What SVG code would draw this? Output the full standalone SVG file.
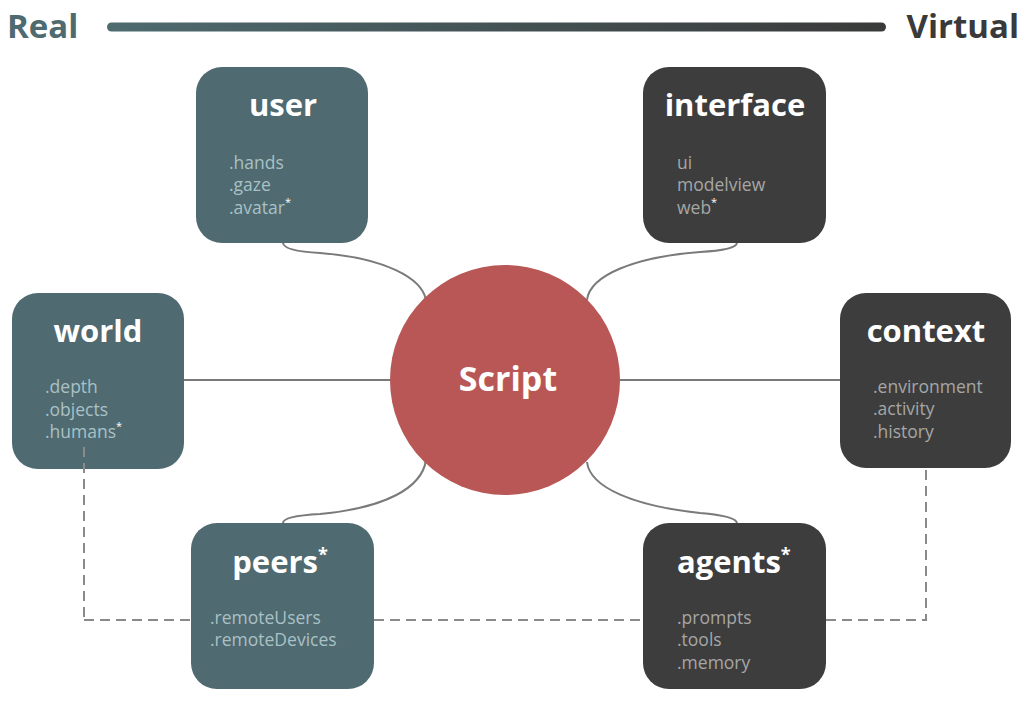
<svg xmlns="http://www.w3.org/2000/svg" width="1024" height="702" viewBox="0 0 1024 702">
<defs>
<linearGradient id="bar" gradientUnits="userSpaceOnUse" x1="107" y1="0" x2="886" y2="0">
<stop offset="0" stop-color="#4e6b70"/>
<stop offset="1" stop-color="#3a3a3a"/>
</linearGradient>
</defs>
<style>
text{font-family:"Open Sans","Liberation Sans",sans-serif}
.teal{fill:#4f6a70}
.dark{fill:#3d3d3d}
.title{font-size:31px;font-weight:700;fill:#ffffff}
.itemT{font-size:17.5px;fill:#a9c1c6}
.itemD{font-size:17.5px;fill:#a6a6a6}
.sup{font-size:11px}
.supT{font-size:18px;font-weight:700;fill:#fff}
.solid{fill:none;stroke:#7a7a7a;stroke-width:2}
.dash{fill:none;stroke:#8a8a8a;stroke-width:2;stroke-dasharray:10 6}
.head{font-size:33px;font-weight:700}
</style>
<rect x="0" y="0" width="1024" height="702" fill="#ffffff"/>
<g id="scale">
<text class="head" x="7" y="38" fill="#4e6b70">Real</text>
<rect x="107" y="22.5" width="779" height="9" rx="4.5" fill="url(#bar)"/>
<text class="head" x="1019" y="38" fill="#3a3a3a" text-anchor="end">Virtual</text>
</g>
<g id="connectors">
<path class="solid" d="M184,380 H391"/>
<path class="solid" d="M620,380 H840"/>
<path class="solid" d="M283,243 Q284,251 320,253 C385,258 422,278 426,300"/>
<path class="solid" d="M737,243 Q736,250 700,252 C635,257 590,275 587,300"/>
<path class="solid" d="M283,523 Q283,516 320,514 C385,508 422,488 426,460"/>
<path class="solid" d="M737,523 Q736,516 700,513 C635,506 590,488 587,462"/>
<path class="dash" d="M84,620 H203 M374,620 H643 M826,620 H926 V468"/>
</g>
<g id="node-user">
<rect class="teal" x="196" y="67" width="172" height="176" rx="26"/>
<text class="title" x="283" y="116" text-anchor="middle">user</text>
<text class="itemT" x="229" y="169">.hands</text>
<text class="itemT" x="229" y="191">.gaze</text>
<text class="itemT" x="229" y="214">.avatar<tspan class="sup" dy="-8" fill="#ffffff">*</tspan></text>
</g>
<g id="node-interface">
<rect class="dark" x="643" y="67" width="183" height="176" rx="26"/>
<text class="title" x="735" y="116" text-anchor="middle">interface</text>
<text class="itemD" x="677" y="169">ui</text>
<text class="itemD" x="677" y="191">modelview</text>
<text class="itemD" x="677" y="214">web<tspan class="sup" dy="-8" fill="#ffffff">*</tspan></text>
</g>
<g id="node-world">
<rect class="teal" x="12" y="293" width="172" height="176" rx="26"/>
<text class="title" x="98" y="342" text-anchor="middle">world</text>
<text class="itemT" x="45" y="393">.depth</text>
<text class="itemT" x="45" y="416">.objects</text>
<text class="itemT" x="45" y="438">.humans<tspan class="sup" dy="-8" fill="#ffffff">*</tspan></text>
<path class="dash" d="M84,447 V620"/>
</g>
<g id="node-context">
<rect class="dark" x="840" y="293" width="171" height="175" rx="26"/>
<text class="title" x="926" y="342" text-anchor="middle">context</text>
<text class="itemD" x="873" y="393">.environment</text>
<text class="itemD" x="873" y="415">.activity</text>
<text class="itemD" x="873" y="438">.history</text>
</g>
<g id="node-script">
<circle cx="505" cy="380" r="115" fill="#b85755"/>
<text x="508" y="391" text-anchor="middle" font-size="34" font-weight="700" fill="#ffffff">Script</text>
</g>
<g id="node-peers">
<rect class="teal" x="191" y="523" width="183" height="166" rx="26"/>
<text class="title" x="280" y="573" text-anchor="middle">peers<tspan class="supT" dy="-12">*</tspan></text>
<text class="itemT" x="210" y="624">.remoteUsers</text>
<text class="itemT" x="210" y="646">.remoteDevices</text>
</g>
<g id="node-agents">
<rect class="dark" x="643" y="523" width="183" height="166" rx="26"/>
<text class="title" x="677" y="573">agents<tspan class="supT" dy="-12">*</tspan></text>
<text class="itemD" x="677" y="624">.prompts</text>
<text class="itemD" x="677" y="646">.tools</text>
<text class="itemD" x="677" y="669">.memory</text>
</g>
</svg>
